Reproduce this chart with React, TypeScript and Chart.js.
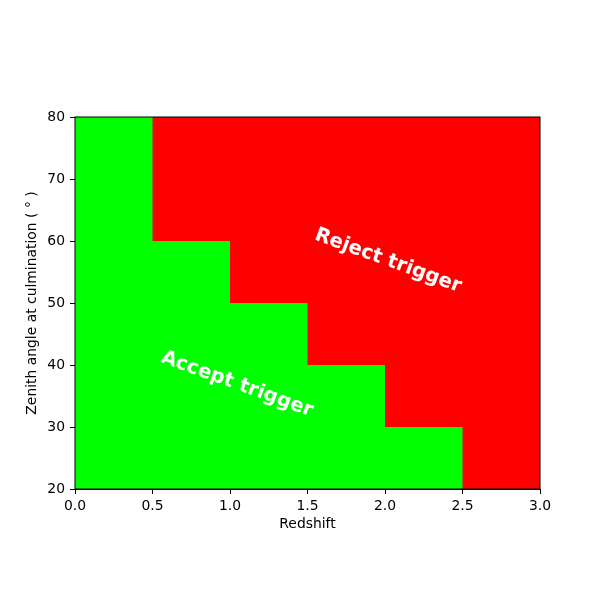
import React, { useEffect, useRef } from "react";
import { Chart, registerables } from "chart.js";

Chart.register(...registerables);

// Bin edges in redshift and the maximum accepted zenith angle in each bin
const redshiftEdges = [0.0, 0.5, 1.0, 1.5, 2.0, 2.5, 3.0];
const maxZenith = [80, 60, 50, 40, 30, 20];
const xTicks = [0.0, 0.5, 1.0, 1.5, 2.0, 2.5, 3.0];
const yTicks = [20, 30, 40, 50, 60, 70, 80];
const labels = [
  { text: "Reject trigger", x: 2.02, y: 56.8 },
  { text: "Accept trigger", x: 1.045, y: 36.9 },
];

const FONT = "'DejaVu Sans', sans-serif";

export default function App() {
  const ref = useRef<HTMLCanvasElement | null>(null);

  useEffect(() => {
    if (!ref.current) return;
    const points = redshiftEdges.map((e, i) => ({
      x: e,
      y: i < maxZenith.length ? maxZenith[i] : maxZenith[maxZenith.length - 1],
    }));

    const bgPlugin = {
      id: "bg",
      beforeDatasetsDraw(chart: any) {
        const { ctx, chartArea: a } = chart;
        ctx.save();
        ctx.fillStyle = "#ff0000";
        ctx.fillRect(a.left, a.top, a.right - a.left, a.bottom - a.top);
        ctx.restore();
      },
      afterDatasetsDraw(chart: any) {
        const { ctx, chartArea: a, scales } = chart;
        ctx.save();
        ctx.fillStyle = "#ffffff";
        ctx.font = `bold 19.8px ${FONT}`;
        ctx.textAlign = "center";
        ctx.textBaseline = "middle";
        for (const l of labels) {
          ctx.save();
          ctx.translate(scales.x.getPixelForValue(l.x), scales.y.getPixelForValue(l.y));
          ctx.rotate((20 * Math.PI) / 180);
          ctx.fillText(l.text, 0, 0);
          ctx.restore();
        }
        ctx.strokeStyle = "#000";
        ctx.lineWidth = 1;
        ctx.strokeRect(a.left, a.top, a.right - a.left, a.bottom - a.top);
        ctx.restore();
      },
    };

    const chart = new Chart(ref.current, {
      type: "line",
      data: {
        datasets: [
          {
            data: points,
            stepped: true,
            fill: "start",
            backgroundColor: "#00ff00",
            borderWidth: 0,
            pointRadius: 0,
            tension: 0,
          } as any,
        ],
      },
      options: {
        animation: false,
        responsive: false,
        events: [],
        layout: { padding: { top: 117, right: 60, left: 0, bottom: 0 } },
        plugins: { legend: { display: false }, tooltip: { enabled: false } },
        scales: {
          x: {
            type: "linear",
            min: 0,
            max: 3,
            afterFit(s: any) {
              s.height = 111;
            },
            afterBuildTicks(s: any) {
              s.ticks = xTicks.map((v) => ({ value: v }));
            },
            ticks: {
              color: "#000",
              font: { family: FONT, size: 13.9 },
              padding: 4,
              maxRotation: 0,
              callback: (v: any) => Number(v).toFixed(1),
            },
            grid: {
              drawOnChartArea: false,
              drawTicks: true,
              tickLength: 5,
              color: "#000",
              tickColor: "#000",
            },
            border: { display: true, color: "#000" },
            title: {
              display: true,
              text: "Redshift",
              color: "#000",
              font: { family: FONT, size: 13.9 },
              padding: { top: 0, bottom: 67 },
            },
          },
          y: {
            type: "linear",
            min: 20,
            max: 80,
            afterFit(s: any) {
              s.width = 75;
            },
            afterBuildTicks(s: any) {
              s.ticks = yTicks.map((v) => ({ value: v }));
            },
            ticks: {
              color: "#000",
              font: { family: FONT, size: 13.9 },
              padding: 5,
            },
            grid: {
              drawOnChartArea: false,
              drawTicks: true,
              tickLength: 5,
              color: "#000",
              tickColor: "#000",
            },
            border: { display: true, color: "#000" },
            title: {
              display: true,
              text: "Zenith angle at culmination ( ° )",
              color: "#000",
              font: { family: FONT, size: 13.9 },
              padding: { top: 24.5, bottom: 0 },
            },
          },
        },
      },
      plugins: [bgPlugin],
    });
    return () => chart.destroy();
  }, []);

  return (
    <div style={{ position: "fixed", left: 0, top: 0, width: 600, height: 600, background: "#fff" }}>
      <canvas ref={ref} width={600} height={600} style={{ width: 600, height: 600 }} />
    </div>
  );
}
